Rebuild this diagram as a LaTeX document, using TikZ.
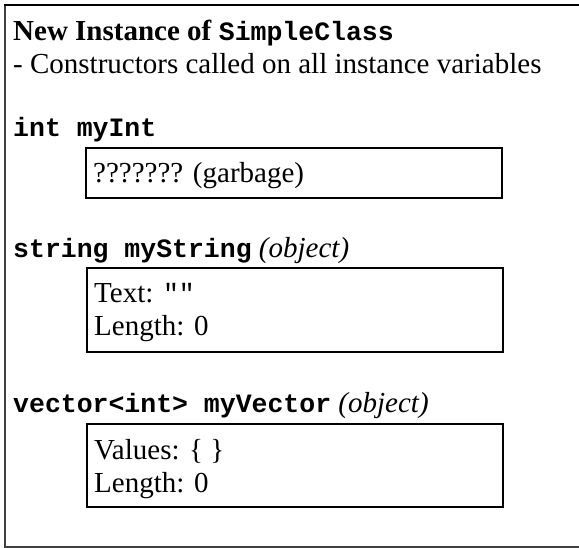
\documentclass[tikz,border=0pt]{standalone}
\usepackage{fontspec}
\setmainfont{Liberation Serif}
\setmonofont{Liberation Mono}
\newcommand\mycode{\fontsize{26.5}{30}\selectfont\ttfamily\bfseries}
\newcommand\myplain{\fontsize{26.5}{30}\selectfont\ttfamily}
\begin{document}
\begin{tikzpicture}[x=1pt,y=-1pt,
  txt/.style={anchor=base west, inner sep=0pt, font=\fontsize{29}{33}\selectfont},
  valbox/.style={draw, line width=2pt, anchor=north west, inner sep=0pt, minimum width=416pt}]
\useasboundingbox (0,0) rectangle (579,548);
% outer frame (cropped on the right)
\draw[line width=1.5pt, black!75] (5,5) -- (5,547) -- (579,547);
\draw[line width=2.5pt] (4.25,5) -- (579,5);
% heading
\node[txt] (title) at (13,41) {\textbf{New Instance of} {\mycode SimpleClass}};
\node[txt] (subtitle) at (13,74) {- Constructors called on all instance variables};
% int
\node[txt] (intlabel) at (13,137) {\mycode int myInt};
\node[valbox, minimum height=50pt] (intbox) at (85,147) {};
\node[txt] (intval) at (93,183) {??????? (garbage)};
% string
\node[txt] (strlabel) at (13,258) {{\mycode string myString} \textit{(object)}};
\node[valbox, minimum height=84pt] (strbox) at (86,267) {};
\node[txt] (strtext) at (94,303) {Text: {\myplain ""}};
\node[txt] (strlen) at (94,336) {Length: 0};
% vector
\node[txt] (veclabel) at (13,413) {{\mycode vector<int> myVector} \textit{(object)}};
\node[valbox, minimum height=83pt] (vecbox) at (86,423) {};
\node[txt] (vecvals) at (94,459) {Values: \{ \}};
\node[txt] (veclen) at (94,492) {Length: 0};
\end{tikzpicture}
\end{document}
